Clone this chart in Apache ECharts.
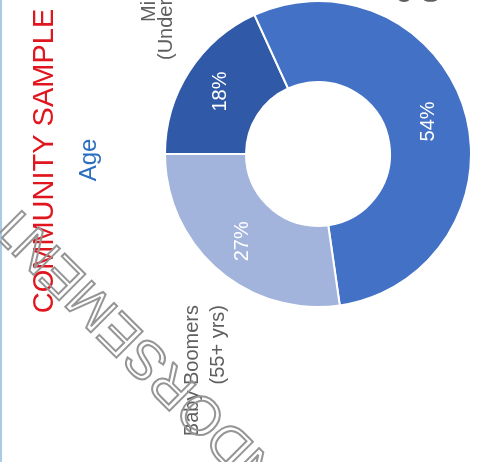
<!DOCTYPE html>
<html>
<head>
<meta charset="utf-8">
<script src="https://cdn.jsdelivr.net/npm/echarts@6/dist/echarts.min.js"></script>
<style>
html,body{margin:0;padding:0;background:#fff;}
#chart{width:478px;height:462px;}
</style>
</head>
<body>
<div id="chart"></div>
<script>
var categories = ['Millennials', 'Gen X', 'Baby Boomers'];
var subLabels = ['(Under 35 yrs)', '(35-54 yrs)', '(55+ yrs)'];
var values = [18, 54, 27];
var colors = ['#3059a7', '#4371c6', '#a3b4dc'];
var titleText = 'COMMUNITY SAMPLE';
var subtitleText = 'Age';
var watermarkText = 'ENDORSEMENT';

var chart = echarts.init(document.getElementById('chart'), null, {renderer: 'canvas'});
var R = Math.PI / 2;
var labelFont = '20px "Liberation Sans", Arial, sans-serif';
var gray = '#5f5f5f';

var option = {
  backgroundColor: '#ffffff',
  animation: false,
  series: [{
    type: 'pie',
    center: [318, 154],
    radius: [72, 153],
    startAngle: 180,
    clockwise: true,
    silent: true,
    data: categories.map(function (c, i) {
      return {name: c, value: values[i], itemStyle: {color: colors[i]}};
    }),
    itemStyle: {borderColor: '#ffffff', borderWidth: 2},
    label: {
      show: true,
      position: 'inside',
      rotate: 90,
      formatter: function (p) { return p.value + '%'; },
      color: '#ffffff',
      fontSize: 20,
      fontFamily: '"Liberation Sans", Arial, sans-serif'
    },
    labelLine: {show: false}
  }],
  graphic: [
    {type: 'rect', shape: {x: 0, y: 0, width: 2, height: 462}, style: {fill: '#a9cbe6'}, z: 1},
    {type: 'text', x: 45, y: 161, rotation: R, z: 5,
      style: {text: titleText, font: '29px "Liberation Sans", Arial, sans-serif', fill: '#e0161e', align: 'center', verticalAlign: 'middle'}},
    {type: 'text', x: 89, y: 160, rotation: R, z: 5,
      style: {text: subtitleText, font: '24px "Liberation Sans", Arial, sans-serif', fill: '#2a6fbf', align: 'center', verticalAlign: 'middle'}},
    {type: 'text', x: 149, y: 22, rotation: R, z: 5,
      style: {text: categories[0], font: labelFont, fill: gray, align: 'left', verticalAlign: 'middle'}},
    {type: 'text', x: 166, y: 60, rotation: R, z: 5,
      style: {text: subLabels[0], font: labelFont, fill: gray, align: 'left', verticalAlign: 'middle'}},
    {type: 'text', x: 405, y: 3, rotation: R, z: 5,
      style: {text: categories[1], font: labelFont, fill: gray, align: 'left', verticalAlign: 'middle'}},
    {type: 'text', x: 430, y: 3, rotation: R, z: 5,
      style: {text: subLabels[1], font: labelFont, fill: gray, align: 'left', verticalAlign: 'middle'}},
    {type: 'text', x: 192, y: 305, rotation: R, z: 5,
      style: {text: categories[2], font: labelFont, fill: gray, align: 'right', verticalAlign: 'middle'}},
    {type: 'text', x: 218, y: 305, rotation: R, z: 5,
      style: {text: subLabels[2], font: labelFont, fill: gray, align: 'right', verticalAlign: 'middle'}},
    {type: 'text', x: 150, y: 360, rotation: 3 * Math.PI / 4, z: 10,
      style: {text: watermarkText, font: '54px "Liberation Sans", Arial, sans-serif', fill: 'rgba(0,0,0,0)', stroke: '#959595', lineWidth: 2, align: 'center', verticalAlign: 'middle'}}
  ]
};
chart.setOption(option);
</script>
</body>
</html>
